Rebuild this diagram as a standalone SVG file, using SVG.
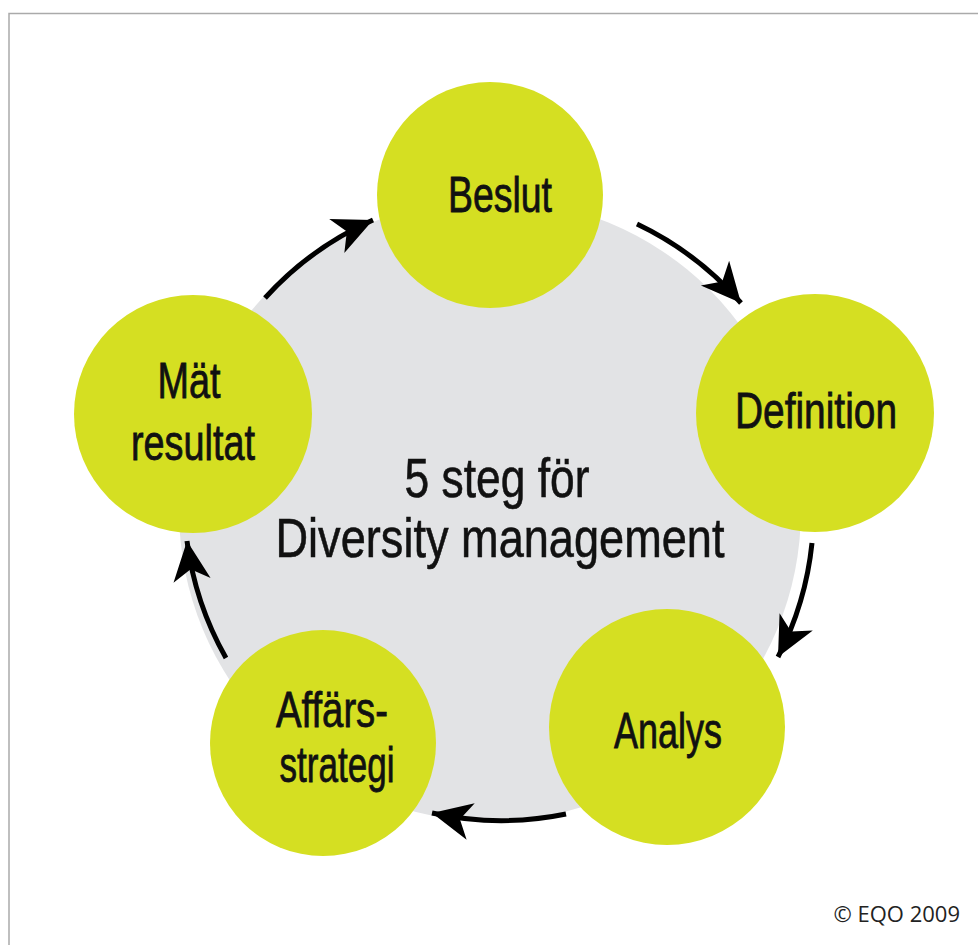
<svg xmlns="http://www.w3.org/2000/svg" width="978" height="945" viewBox="0 0 978 945">
<defs>
<style>
.node{fill:#d5df22;}
.lbl{font-family:"Liberation Sans",Arial,sans-serif;font-size:50px;fill:#111;stroke:#111;stroke-width:0.8;text-anchor:middle;}
.title{font-family:"Liberation Sans",Arial,sans-serif;font-size:56px;fill:#111;stroke:#111;stroke-width:0.6;text-anchor:middle;}
.conn{fill:none;stroke:#000;stroke-width:5;marker-end:url(#ah);}
</style>
<marker id="ah" markerUnits="userSpaceOnUse" markerWidth="44" markerHeight="44" viewBox="-38 -19 40 38" refX="0" refY="0" orient="auto">
<path d="M0,0 L-36,-17 L-26,0 L-36,17 Z" fill="#000"/>
</marker>
</defs>
<rect width="978" height="945" fill="#fff"/>
<path d="M9,945 V13.5 H978" fill="none" stroke="#aaa" stroke-width="1.5"/>
<circle cx="490" cy="510" r="311" fill="#e2e3e5"/>
<g id="connectors">
<path class="conn" d="M637,224 A320,320 0 0 1 741,303"/>
<path class="conn" d="M812,543 A320,320 0 0 1 778,657"/>
<path class="conn" d="M566,814 A320,320 0 0 1 432,813"/>
<path class="conn" d="M226,658 A320,320 0 0 1 187,541"/>
<path class="conn" d="M265,298 A320,320 0 0 1 373,220"/>
</g>
<g id="beslut"><circle class="node" cx="490" cy="195" r="113"/><text class="lbl" x="500" y="212" textLength="104" lengthAdjust="spacingAndGlyphs">Beslut</text></g>
<g id="definition"><circle class="node" cx="815" cy="413" r="119"/><text class="lbl" x="816" y="428" textLength="162" lengthAdjust="spacingAndGlyphs">Definition</text></g>
<g id="analys"><circle class="node" cx="667" cy="727" r="118"/><text class="lbl" x="668" y="748" textLength="108" lengthAdjust="spacingAndGlyphs">Analys</text></g>
<g id="affarsstrategi"><circle class="node" cx="323" cy="743" r="113"/><text class="lbl" x="332" y="727" textLength="112" lengthAdjust="spacingAndGlyphs">Affärs-</text><text class="lbl" x="337" y="782" textLength="115" lengthAdjust="spacingAndGlyphs">strategi</text></g>
<g id="matresultat"><circle class="node" cx="193" cy="414" r="119"/><text class="lbl" x="189" y="398" textLength="63" lengthAdjust="spacingAndGlyphs">Mät</text><text class="lbl" x="193" y="460" textLength="124" lengthAdjust="spacingAndGlyphs">resultat</text></g>
<g id="center"><text class="title" x="497" y="497" textLength="185" lengthAdjust="spacingAndGlyphs">5 steg för</text><text class="title" x="500" y="557" textLength="449" lengthAdjust="spacingAndGlyphs">Diversity management</text></g>
<text x="960" y="922" font-family="'Open Sans',sans-serif" font-size="22" fill="#222" text-anchor="end">© EQO 2009</text>
</svg>
